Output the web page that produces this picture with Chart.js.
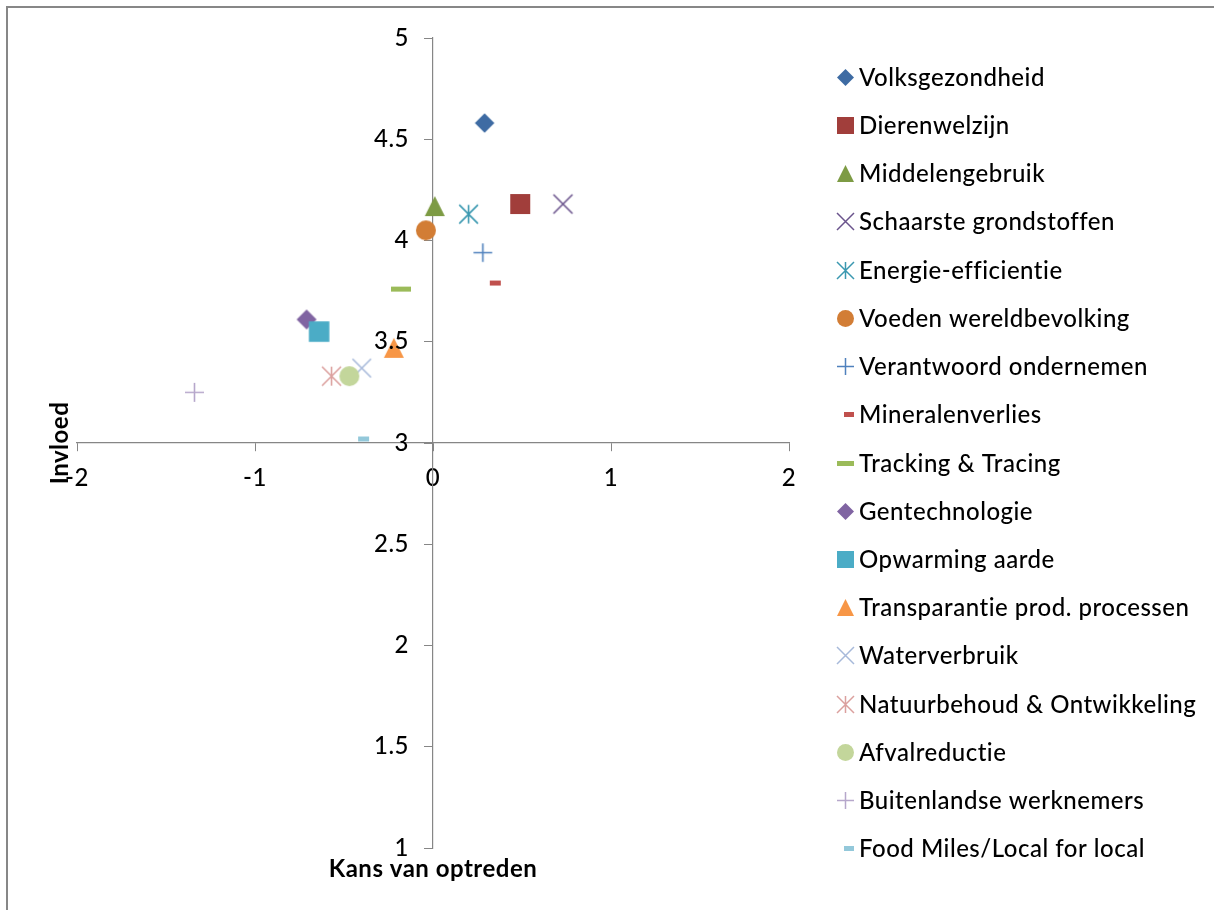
<!DOCTYPE html>
<html>
<head>
<meta charset="utf-8">
<title>Kans van optreden / Invloed</title>
<script src="https://cdn.jsdelivr.net/npm/chart.js@4.4.0/dist/chart.umd.min.js"></script>
<style>
  html, body { margin: 0; padding: 0; background: #ffffff; }
  canvas { display: block; }
</style>
</head>
<body>
<canvas id="chart" width="1214" height="910"></canvas>
<script>
// Thema's
const seriesNames = [
  'Volksgezondheid', 'Dierenwelzijn', 'Middelengebruik', 'Schaarste grondstoffen',
  'Energie-efficientie', 'Voeden wereldbevolking', 'Verantwoord ondernemen',
  'Mineralenverlies', 'Tracking & Tracing', 'Gentechnologie', 'Opwarming aarde',
  'Transparantie prod. processen', 'Waterverbruik', 'Natuurbehoud & Ontwikkeling',
  'Afvalreductie', 'Buitenlandse werknemers', 'Food Miles/Local for local'
];
// Kans van optreden (x)
const kansValues = [0.29, 0.49, 0.01, 0.73, 0.20, -0.04, 0.28, 0.35, -0.18, -0.71, -0.64, -0.22, -0.40, -0.57, -0.47, -1.34, -0.39];
// Invloed (y)
const invloedValues = [4.58, 4.18, 4.17, 4.18, 4.13, 4.05, 3.94, 3.79, 3.76, 3.61, 3.55, 3.47, 3.37, 3.33, 3.33, 3.25, 3.02];

// Axis ticks
const xTickValues = [-2, -1, 0, 1, 2];
const xTickLabels = ['-2', '-1', '0', '1', '2'];
const yTickValues = [1, 1.5, 2, 2.5, 3, 3.5, 4, 4.5, 5];
const yTickLabels = ['1', '1.5', '2', '2.5', '3', '3.5', '4', '4.5', '5'];

// Marker styling per series
const markerShapes = ['diamond', 'square', 'triangle', 'x', 'asterisk', 'circle', 'plus', 'dash', 'dash',
                      'diamond', 'square', 'triangle', 'x', 'asterisk', 'circle', 'plus', 'dash'];
const markerColors = ['#3E6BA3', '#A13E3B', '#7D9B44', '#6A538C', '#3A98B0', '#D27D35', '#4F81BD',
                      '#C0504D', '#9BBB59', '#8064A2', '#4BACC6', '#F79646', '#A7B9DA', '#DBA09E',
                      '#C3D69B', '#B6A7CB', '#93C8DA'];
const plotSizes   = [19.5, 20, 20, 19, 18.7, 20, 18.7, 11, 20, 20, 20.5, 20, 18.5, 19, 20, 19, 11];
const legendSizes = [17, 17, 17, 17, 17, 17, 17, 10, 17, 17, 17, 17, 17, 17, 17, 17, 10];

const AXIS_GREY = '#868686';
const FONT = 'Lato';
const TEXT_SIZE = 24;
const TEXT_WEIGHT = 500;
const SPACING = '0.5px';
Chart.defaults.font.family = FONT;
Chart.defaults.color = '#000000';

function makeMarker(shape, color, size, stroke) {
  const pad = 3;
  const w = Math.ceil(size) + pad * 2;
  const h = shape === 'dash' ? 5 + pad * 2 : w;
  const cv = document.createElement('canvas');
  cv.width = w;
  cv.height = h;
  const g = cv.getContext('2d');
  const cx = w / 2, cy = h / 2, r = size / 2;
  g.fillStyle = color;
  g.strokeStyle = color;
  g.lineWidth = stroke;
  g.beginPath();
  switch (shape) {
    case 'diamond':
      g.moveTo(cx - r, cy); g.lineTo(cx, cy - r); g.lineTo(cx + r, cy); g.lineTo(cx, cy + r);
      g.closePath(); g.fill();
      break;
    case 'square':
      g.fillRect(cx - r, cy - r, size, size);
      break;
    case 'triangle':
      g.moveTo(cx, cy - r); g.lineTo(cx + r, cy + r); g.lineTo(cx - r, cy + r);
      g.closePath(); g.fill();
      break;
    case 'circle':
      g.arc(cx, cy, r, 0, Math.PI * 2); g.fill();
      break;
    case 'x':
      g.moveTo(cx - r, cy - r); g.lineTo(cx + r, cy + r);
      g.moveTo(cx + r, cy - r); g.lineTo(cx - r, cy + r);
      g.stroke();
      break;
    case 'asterisk':
      g.moveTo(cx - r, cy - r); g.lineTo(cx + r, cy + r);
      g.moveTo(cx + r, cy - r); g.lineTo(cx - r, cy + r);
      g.moveTo(cx, cy - r); g.lineTo(cx, cy + r);
      g.stroke();
      break;
    case 'plus':
      g.moveTo(cx - r, cy); g.lineTo(cx + r, cy);
      g.moveTo(cx, cy - r); g.lineTo(cx, cy + r);
      g.stroke();
      break;
    case 'dash':
      g.fillRect(cx - r, cy - 2.5, size, 5);
      break;
  }
  return cv;
}

const plotMarkers = seriesNames.map((_, i) => makeMarker(markerShapes[i], markerColors[i], plotSizes[i], 1.6));
const legendMarkers = seriesNames.map((_, i) => makeMarker(markerShapes[i], markerColors[i], legendSizes[i], 1.5));

const datasets = seriesNames.map((name, i) => ({
  label: name,
  data: [{ x: kansValues[i], y: invloedValues[i] }],
  showLine: false,
  pointStyle: plotMarkers[i],
  pointRadius: 10,
  pointHoverRadius: 10,
  order: seriesNames.length - i
}));

// Outer frame (top and left edge of the chart box) and text spacing
const framePlugin = {
  id: 'frame',
  beforeDraw(chart) {
    const ctx = chart.ctx;
    ctx.fillStyle = '#878787';
    ctx.fillRect(6, 6, chart.width - 6, 2);
    ctx.fillRect(6, 6, 2, chart.height - 6);
    ctx.letterSpacing = SPACING;
  }
};

// Value labels of the vertical axis, next to the axis crossing x = 0
const yLabelPlugin = {
  id: 'yLabels',
  afterDraw(chart) {
    const { ctx, scales } = chart;
    const axisX = scales.x.getPixelForValue(0);
    ctx.save();
    ctx.letterSpacing = SPACING;
    ctx.font = TEXT_WEIGHT + ' ' + TEXT_SIZE + 'px ' + FONT;
    ctx.fillStyle = '#000';
    ctx.textAlign = 'right';
    ctx.textBaseline = 'middle';
    yTickValues.forEach((v, i) => {
      ctx.fillText(yTickLabels[i], axisX - 24, scales.y.getPixelForValue(v));
    });
    ctx.restore();
  }
};

// Axis titles
const titlePlugin = {
  id: 'axisTitles',
  afterDraw(chart) {
    const { ctx, chartArea, scales } = chart;
    ctx.save();
    ctx.letterSpacing = SPACING;
    ctx.font = 'bold ' + TEXT_SIZE + 'px ' + FONT;
    ctx.fillStyle = '#000';
    ctx.textAlign = 'center';
    ctx.textBaseline = 'alphabetic';
    ctx.fillText('Kans van optreden', (chartArea.left + chartArea.right) / 2, 877);
    ctx.translate(68, scales.y.getPixelForValue(3));
    ctx.rotate(-Math.PI / 2);
    ctx.fillText('Invloed', 0, 0);
    ctx.restore();
  }
};

// Legend column on the right
const legendPlugin = {
  id: 'sideLegend',
  afterDraw(chart) {
    const ctx = chart.ctx;
    ctx.save();
    ctx.letterSpacing = SPACING;
    ctx.font = TEXT_WEIGHT + ' ' + TEXT_SIZE + 'px ' + FONT;
    ctx.fillStyle = '#000';
    ctx.textAlign = 'left';
    ctx.textBaseline = 'alphabetic';
    seriesNames.forEach((name, i) => {
      const base = 85.7 + i * 48.23;
      const img = legendMarkers[i];
      const cx = 854 - legendSizes[i] / 2;
      const cy = base - 8.5;
      ctx.drawImage(img, Math.round(cx - img.width / 2), Math.round(cy - img.height / 2));
      ctx.fillText(name, 859, base);
    });
    ctx.restore();
    ctx.letterSpacing = '0px';
  }
};

new Chart(document.getElementById('chart'), {
  type: 'scatter',
  data: { datasets },
  options: {
    responsive: false,
    animation: false,
    devicePixelRatio: 1,
    layout: { padding: { left: 77, right: 425, top: 38, bottom: 62 } },
    plugins: {
      legend: { display: false },
      tooltip: { enabled: false }
    },
    scales: {
      x: {
        type: 'linear',
        min: -2,
        max: 2,
        position: { y: 3 },
        afterBuildTicks: axis => { axis.ticks = xTickValues.map(v => ({ value: v })); },
        ticks: {
          padding: 12.5,
          font: { size: TEXT_SIZE, family: FONT, weight: TEXT_WEIGHT },
          color: '#000',
          callback: (value, index) => xTickLabels[index]
        },
        grid: { drawOnChartArea: false, drawTicks: true, tickLength: 8, color: AXIS_GREY, tickWidth: 1 },
        border: { display: true, color: AXIS_GREY, width: 1.2 }
      },
      y: {
        type: 'linear',
        min: 1,
        max: 5,
        position: { x: 0 },
        afterBuildTicks: axis => { axis.ticks = yTickValues.map(v => ({ value: v })); },
        ticks: { display: false },
        grid: { drawOnChartArea: false, drawTicks: true, tickLength: 8, color: AXIS_GREY, tickWidth: 1 },
        border: { display: true, color: AXIS_GREY, width: 1.2 }
      }
    }
  },
  plugins: [framePlugin, yLabelPlugin, titlePlugin, legendPlugin]
});
</script>
</body>
</html>
